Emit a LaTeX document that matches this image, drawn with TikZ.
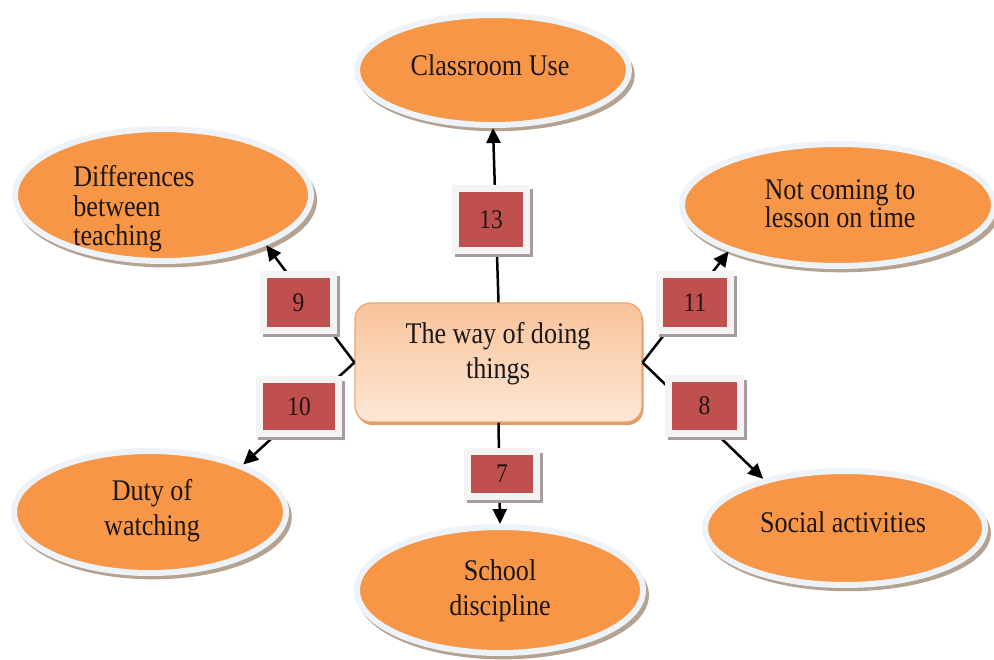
\documentclass[tikz,border=0pt]{standalone}
\usepackage{fontspec}
\setmainfont{Liberation Serif}[FakeStretch=0.87]
\usetikzlibrary{shapes.geometric,arrows.meta,shadows}
\definecolor{orng}{HTML}{F79646}
\definecolor{rim}{HTML}{EEF3F9}
\definecolor{shd}{HTML}{B5A391}
\definecolor{boxred}{HTML}{C0504D}
\definecolor{framec}{HTML}{F4F4F4}
\definecolor{fshd}{HTML}{A99C9C}
\definecolor{ink}{HTML}{1C1616}
\definecolor{peachA}{HTML}{F9C39A}
\definecolor{peachB}{HTML}{FDE7D6}
\definecolor{peachE}{HTML}{F0A66F}
\definecolor{peachS}{HTML}{E39A64}
\tikzset{
  oval/.style={ellipse, inner sep=0pt, fill=orng, draw=rim, line width=6pt,
    general shadow={fill=shd, shadow xshift=3pt, shadow yshift=-5pt, shadow scale=1.02}},
  txt/.style={text=ink, align=center, font=\fontsize{30}{35}\selectfont, inner sep=0pt},
  tighttxt/.style={txt, font=\fontsize{30}{27}\selectfont},
  looser/.style={txt, font=\fontsize{30}{29.5}\selectfont},
  nbox/.style={rectangle, inner sep=0pt, fill=boxred, draw=framec, line width=7pt,
    text=ink, font=\fontsize{27}{30}\selectfont,
    general shadow={fill=fshd, shadow xshift=2.5pt, shadow yshift=-3.5pt, shadow scale=1.1}},
  ctrbox/.style={rectangle, rounded corners=16pt, inner sep=0pt,
    minimum width=287pt, minimum height=119pt,
    draw=peachE, line width=1.2pt, top color=peachA, bottom color=peachB,
    general shadow={fill=peachS, shadow xshift=1.5pt, shadow yshift=-3pt}},
  conn/.style={draw=black, line width=2.5pt},
  arr/.style={conn, -{Triangle[length=15pt,width=14pt]}},
}
\begin{document}
\begin{tikzpicture}[x=1pt,y=-1pt]
\path[use as bounding box, fill=white] (0,0) rectangle (994,660);
% outer ellipses
\node[oval, minimum width=272pt, minimum height=110pt,
  label={[txt, anchor=base, xshift=-3pt, yshift=5pt]center:Classroom Use}] (cls) at (493,70) {};
\node[oval, minimum width=296pt, minimum height=132pt,
  label={[looser, align=left, xshift=-29pt, yshift=-14pt]center:Differences\\between\\teaching}] (diff) at (163,195) {};
\node[oval, minimum width=312pt, minimum height=122pt,
  label={[tighttxt, xshift=2pt, yshift=1pt]center:Not coming to\\lesson on time}] (late) at (838,205) {};
\node[oval, minimum width=280pt, minimum height=114pt,
  label={[txt, anchor=base, xshift=-2pt, yshift=6pt]center:Social activities}] (soc) at (845,528) {};
\node[oval, minimum width=272pt, minimum height=122pt,
  label={[txt, xshift=2pt, yshift=1.5pt]center:Duty of\\watching}] (duty) at (150,512) {};
\node[oval, minimum width=286pt, minimum height=126pt,
  label={[txt, yshift=-0.5pt]center:School\\discipline}] (sch) at (500,590) {};
% central box
\node[ctrbox, label={[txt, xshift=-0.5pt, yshift=8.7pt]center:The way of doing\\things}] (ctr) at (498.5,362.5) {};
% connectors
\draw[arr] (ctr.north) -- (cls.south);
\draw[arr] (ctr.west) -- (diff.-26.5);
\draw[arr] (ctr.west) -- (duty.27.4);
\draw[arr] (ctr.east) -- (late.-157.3);
\draw[arr] (ctr.east) -- (soc.149.1);
\draw[arr] (ctr.south) -- (sch.north);
% number boxes
\node[nbox, minimum width=71pt, minimum height=62pt] (n13) at (491,219.5) {13};
\node[nbox, minimum width=70pt, minimum height=56pt] (n9) at (298.5,302.5) {9};
\node[nbox, minimum width=71pt, minimum height=56pt] (n11) at (695,302.5) {11};
\node[nbox, minimum width=79pt, minimum height=54pt] (n10) at (299,406.5) {10};
\node[nbox, minimum width=72pt, minimum height=55pt] (n8) at (704.5,406) {8};
\node[nbox, minimum width=69pt, minimum height=45pt] (n7) at (502,474) {7};
\end{tikzpicture}
\end{document}
